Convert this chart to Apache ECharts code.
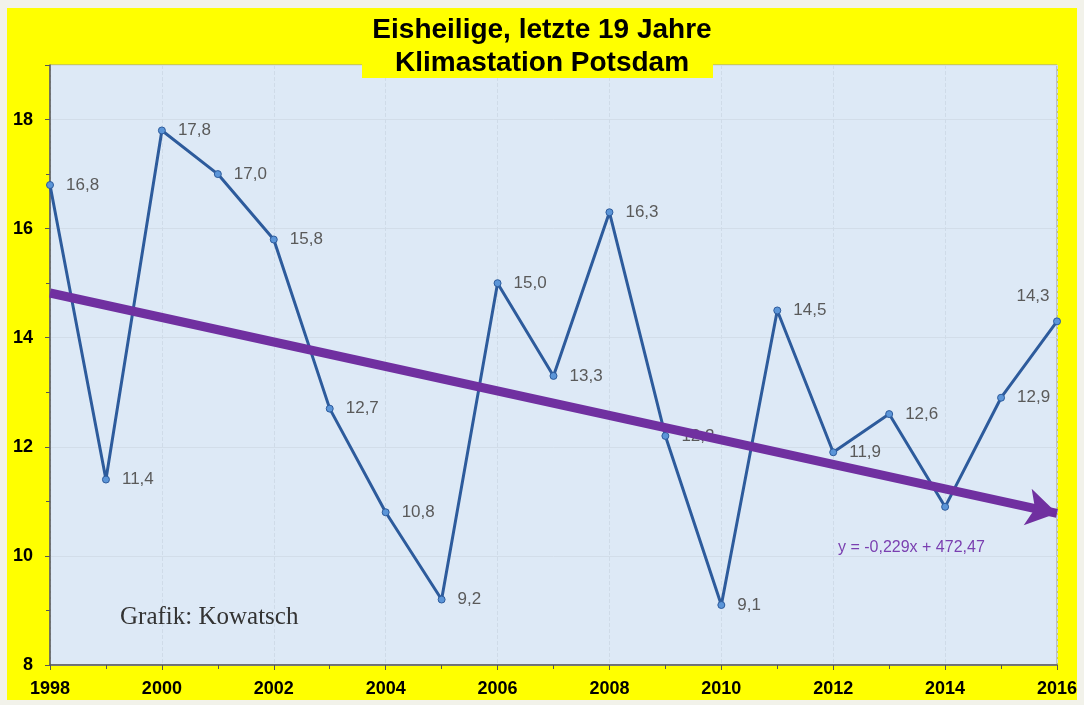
<!DOCTYPE html>
<html><head><meta charset="utf-8">
<script src="https://cdn.jsdelivr.net/npm/echarts@6/dist/echarts.min.js"></script>
<style>html,body{margin:0;padding:0;background:#f2f2ea;}#c{width:1084px;height:705px;}</style>
</head><body><div id="c"></div>
<script>
const years = [1998,1999,2000,2001,2002,2003,2004,2005,2006,2007,2008,2009,2010,2011,2012,2013,2014,2015,2016];
const temps = [16.8,11.4,17.8,17.0,15.8,12.7,10.8,9.2,15.0,13.3,16.3,12.2,9.1,14.5,11.9,12.6,10.9,12.9,14.3];
const hiddenLabelYears = [2014];
const trendYears = [1998, 2016];
const trendValues = [14.82, 10.78];
const titleLines = ['Eisheilige, letzte 19 Jahre', 'Klimastation Potsdam'];
const equationText = 'y = -0,229x + 472,47';
const creditText = 'Grafik: Kowatsch';

const fmt = v => v.toFixed(1).replace('.', ',');
const pointData = years.map((y, i) => {
  const d = { value: [y, temps[i]] };
  if (hiddenLabelYears.includes(y)) d.label = { show: false };
  if (y === 2016) d.label = { position: 'top', offset: [-24, -1] };
  return d;
});

const chart = echarts.init(document.getElementById('c'));
chart.setOption({
  animation: false,
  backgroundColor: 'transparent',
  graphic: [
    { type: 'rect', z: -10, shape: { x: 7, y: 8, width: 1070, height: 692 }, style: { fill: '#ffff00' } },
    { type: 'rect', z: 100, shape: { x: 362, y: 44, width: 351, height: 34 }, style: { fill: '#ffff00' } },
    { type: 'text', z: 101, left: 'center', top: 16, style: { text: titleLines[0], font: 'bold 28px "Liberation Sans", Arial, sans-serif', fill: '#000' } },
    { type: 'text', z: 101, left: 'center', top: 49, style: { text: titleLines[1], font: 'bold 28px "Liberation Sans", Arial, sans-serif', fill: '#000' } },
    { type: 'text', z: 50, left: 838, top: 540, style: { text: equationText, font: '16px "Liberation Sans", Arial, sans-serif', fill: '#7a3fb0' } },
    { type: 'text', z: 50, left: 120, top: 605, style: { text: creditText, font: '25px "Liberation Serif", "Times New Roman", serif', fill: '#333' } }
  ],
  grid: { left: 50, right: 27, top: 65, bottom: 40, show: true, backgroundColor: '#dde9f6', borderColor: '#9a9a9a', borderWidth: 1 },
  xAxis: {
    type: 'value', min: 1998, max: 2016, interval: 2,
    axisLine: { show: true, lineStyle: { color: '#555', width: 1.5 } },
    axisTick: { show: true, length: 5, lineStyle: { color: '#555' } },
    minorTick: { show: true, splitNumber: 2, length: 4, lineStyle: { color: '#555' } },
    axisLabel: { formatter: v => String(v), color: '#000', fontWeight: 'bold', fontSize: 18, fontFamily: '"Liberation Sans", Arial, sans-serif', margin: 15 },
    splitLine: { show: true, lineStyle: { color: '#cfdbe8', type: 'dashed', width: 1 } }
  },
  yAxis: {
    type: 'value', min: 8, max: 19, interval: 2,
    axisLine: { show: true, lineStyle: { color: '#555', width: 1.5 } },
    axisTick: { show: true, length: 5, lineStyle: { color: '#555' } },
    minorTick: { show: true, splitNumber: 2, length: 4, lineStyle: { color: '#555' } },
    axisLabel: { formatter: v => (v === 19 ? '' : String(v)), color: '#000', fontWeight: 'bold', fontSize: 18, fontFamily: '"Liberation Sans", Arial, sans-serif', margin: 17 },
    splitLine: { show: true, lineStyle: { color: '#d2dde9', width: 1 } }
  },
  series: [
    {
      type: 'line', data: pointData, z: 3,
      lineStyle: { color: '#2d5b9c', width: 3 },
      symbol: 'circle', symbolSize: 7,
      itemStyle: { color: '#5b95d8', borderColor: '#2d5b9c', borderWidth: 1 },
      label: { show: true, position: 'right', distance: 12, formatter: p => fmt(p.value[1]), color: '#5a5a5a', fontSize: 17, fontFamily: '"Liberation Sans", Arial, sans-serif' }
    },
    {
      type: 'line', data: [], z: 5,
      markLine: {
        silent: true, symbol: ['none', 'arrow'], symbolSize: [28, 30],
        label: { show: false },
        lineStyle: { color: '#7030a0', width: 9, type: 'solid' },
        data: [[{ coord: [trendYears[0], trendValues[0]] }, { coord: [trendYears[1], trendValues[1]] }]]
      }
    }
  ]
});
</script></body></html>
